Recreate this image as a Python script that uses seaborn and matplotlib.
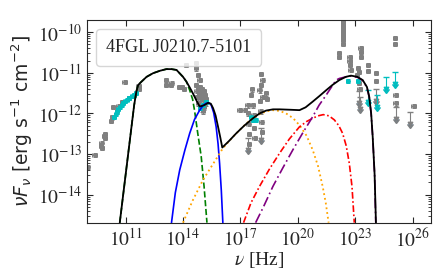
import numpy as np
import matplotlib
matplotlib.use("Agg")
import matplotlib.pyplot as plt
import matplotlib.ticker as mticker
import seaborn as sns

# model curves, log10(nu [Hz]) and log10(nuFnu [erg s-1 cm-2])
total_lognu = [10.70, 11.14, 11.45, 11.57, 11.66, 11.83, 12.10, 12.44, 12.80, 13.13, 13.40, 13.66, 14.00, 14.18,
               14.35, 14.52, 14.70, 14.87, 15.10, 15.31, 15.45, 15.57, 15.70, 15.83, 15.95, 16.05, 16.40, 16.78,
               17.20, 17.65, 18.00, 18.34, 18.70, 19.04, 19.60, 20.08, 20.40, 20.77, 21.10, 21.47, 21.80, 22.16,
               22.50, 22.77, 23.10, 23.38, 23.60, 23.72, 23.82, 23.90, 24.00, 24.07]
total_logF = [-14.69, -12.99, -11.80, -11.45, -11.30, -11.22, -11.10, -11.01, -10.95, -10.91, -10.91, -10.93, -11.10, -11.22,
              -11.36, -11.51, -11.68, -11.83, -11.80, -11.74, -11.76, -11.87, -12.05, -12.33, -12.60, -12.84, -12.68, -12.49,
              -12.30, -12.12, -12.00, -11.93, -11.90, -11.90, -11.91, -11.92, -11.85, -11.71, -11.58, -11.43, -11.30, -11.18,
              -11.10, -11.07, -11.10, -11.18, -11.35, -11.59, -12.00, -12.57, -13.50, -14.69]

sync1_lognu = [10.70, 11.14, 11.45, 11.57, 11.66, 11.83, 12.10, 12.44, 12.80, 13.13, 13.40, 13.66, 14.00, 14.18,
               14.35, 14.50, 14.60, 14.77, 14.95, 15.10, 15.25]
sync1_logF = [-14.69, -12.99, -11.80, -11.45, -11.30, -11.22, -11.10, -11.01, -10.95, -10.91, -10.91, -10.93, -11.10, -11.22,
              -11.43, -11.65, -11.92, -12.49, -13.06, -13.80, -14.69]

sync2_lognu = [13.40, 13.60, 13.83, 14.10, 14.35, 14.60, 14.87, 15.05, 15.21, 15.35, 15.47, 15.60, 15.73, 15.83, 15.91, 16.00, 16.08]
sync2_logF = [-14.69, -13.95, -13.39, -12.90, -12.49, -12.15, -11.92, -11.80, -11.75, -11.74, -11.79, -11.98, -12.33, -12.75, -13.23, -13.90, -14.69]

ssc_lognu = [14.00, 14.50, 15.04, 15.60, 16.08, 16.60, 17.12, 17.55, 17.99, 18.35, 18.69, 19.05, 19.38, 19.75, 20.08,
             20.45, 20.77, 21.05, 21.29, 21.45, 21.60]
ssc_logF = [-14.69, -14.15, -13.64, -13.22, -12.86, -12.58, -12.33, -12.15, -12.02, -11.95, -11.92, -11.94, -12.00, -12.12, -12.29,
            -12.55, -12.90, -13.30, -13.80, -14.20, -14.69]

ec1_lognu = [17.16, 17.55, 17.99, 18.50, 19.04, 19.55, 20.08, 20.45, 20.77, 21.05, 21.32, 21.62, 21.90, 22.13, 22.33,
             22.52, 22.68, 22.82, 22.94]
ec1_logF = [-14.69, -14.20, -13.80, -13.38, -12.98, -12.63, -12.33, -12.20, -12.12, -12.06, -12.03, -12.06, -12.16, -12.30, -12.49,
            -12.80, -13.23, -13.80, -14.69]

ec2_lognu = [17.79, 18.20, 18.69, 19.20, 19.73, 20.25, 20.77, 21.10, 21.47, 21.75, 21.99, 22.16, 22.50, 22.77, 23.10,
             23.38, 23.60, 23.72, 23.82, 23.90, 24.00, 24.06]
ec2_logF = [-14.69, -14.30, -13.80, -13.35, -12.90, -12.48, -12.08, -11.80, -11.55, -11.35, -11.18, -11.14, -11.10, -11.08, -11.11,
            -11.19, -11.36, -11.60, -12.01, -12.58, -13.50, -14.69]

# archival data (grey) and simultaneous data (cyan)
grey_lognu = [9.02, 9.40, 9.72, 9.75, 9.78, 9.90, 9.93, 9.95, 10.25, 10.30, 10.36, 10.55, 10.65, 10.84, 10.96, 11.20,
              11.69, 11.72, 13.13, 13.13, 13.38, 13.40, 13.81, 13.93, 14.05, 14.17, 14.69, 14.69, 14.78, 14.87,
              14.70, 14.72, 14.75, 14.78, 14.80, 14.85, 14.88, 14.90, 14.92, 14.95, 14.98, 15.00, 15.03, 15.05,
              15.08, 15.10, 15.12, 15.15, 15.18, 15.20,
              16.95, 17.22, 17.38, 17.40, 17.42, 17.44, 17.46, 17.55, 17.60, 17.65, 17.70, 17.72, 17.74,
              18.00, 18.03, 18.05, 18.07, 18.07, 18.10, 18.12, 18.15, 18.15, 18.35, 18.38,
              22.35, 22.35, 22.35, 22.35, 22.35, 22.35, 22.35, 22.35, 22.35, 22.16, 22.14, 22.70, 22.70, 22.72,
              22.75, 23.28, 23.30, 23.30, 23.15, 23.20, 23.10, 23.20, 23.22, 23.65, 23.65, 24.07, 24.07, 25.08,
              25.08, 25.10, 25.10, 26.05]
grey_logF = [-13.31, -13.02, -12.80, -12.74, -12.84, -12.55, -12.60, -12.50, -12.18, -12.10, -11.84, -11.95, -11.82, -11.71, -11.22, -11.62,
             -11.32, -11.40, -11.18, -11.30, -11.30, -11.24, -11.34, -11.34, -11.40, -10.81, -10.77, -10.89, -11.06, -11.18,
             -11.30, -11.45, -11.60, -11.40, -11.75, -11.55, -11.35, -11.85, -11.65, -11.50, -11.90, -11.40, -11.60, -11.95,
             -11.70, -11.45, -11.85, -11.55, -11.75, -11.65,
             -11.92, -11.92, -11.80, -12.00, -12.25, -12.50, -12.75, -11.55, -11.41, -11.80, -12.05, -12.35, -12.60,
             -11.43, -11.70, -11.95, -11.02, -11.30, -12.20, -12.45, -11.18, -11.60, -11.51, -11.65,
             -9.74, -9.80, -9.86, -9.92, -9.98, -10.05, -10.12, -10.20, -10.28, -10.52, -10.60, -10.62, -10.70, -10.80,
             -10.92, -10.38, -10.48, -10.60, -10.88, -10.98, -11.05, -11.25, -11.40, -10.80, -10.95, -11.00, -11.20, -10.14,
             -10.28, -11.55, -11.75, -11.81]

grey_ul_lognu = [17.40, 18.05, 23.25, 23.18, 24.07, 25.10, 25.84]
grey_ul_logF = [-12.60, -12.35, -11.60, -11.45, -11.40, -11.85, -11.96]

cyan_lognu = [10.40, 10.48, 10.55, 10.62, 10.70, 10.80, 10.88, 10.98, 11.10, 11.20, 11.32, 11.45, 11.55,
              14.87, 15.03, 15.21, 17.55, 17.64, 17.79, 22.61, 23.12]
cyan_logF = [-12.10, -12.02, -11.96, -11.90, -11.85, -11.80, -11.74, -11.70, -11.66, -11.62, -11.58, -11.54, -11.50,
             -11.87, -11.79, -11.71, -12.10, -12.16, -12.16, -11.20, -11.20]

cyan_ul_lognu = [23.65, 24.11, 24.59, 25.08]
cyan_ul_logF = [-11.42, -11.55, -11.10, -10.98]

source_name = "4FGL J0210.7-5101"

sns.set_style("ticks")
plt.rcParams["font.family"] = "serif"
plt.rcParams["font.serif"] = ["Liberation Serif", "DejaVu Serif"]
plt.rcParams["mathtext.fontset"] = "stix"
plt.rcParams["xtick.direction"] = "in"
plt.rcParams["ytick.direction"] = "in"
plt.rcParams["xtick.top"] = True
plt.rcParams["ytick.right"] = True

fig = plt.figure(figsize=(4.36, 2.73), dpi=100)
ax = fig.add_axes([0.2, 0.183, 0.789, 0.744])
ax.set_xscale("log")
ax.set_yscale("log")


def lin(v):
    return 10 ** np.array(v, dtype=float)


# data points
gx, gy = lin(grey_lognu), lin(grey_logF)
ax.errorbar(gx, gy, yerr=gy * 0.12, xerr=gx * 0.25, fmt="o", color="grey", ms=2.5,
            elinewidth=0.7, capsize=1.5, capthick=0.7, zorder=2)
cx, cy = lin(cyan_lognu), lin(cyan_logF)
ax.errorbar(cx, cy, yerr=cy * 0.1, xerr=cx * 0.2, fmt="o", color="c", ms=2.5,
            elinewidth=0.7, capsize=1.5, capthick=0.7, zorder=3)

ux, uy = lin(grey_ul_lognu), lin(grey_ul_logF)
ax.errorbar(ux, uy, yerr=uy * (1 - 10 ** -0.3), uplims=True, fmt="none", ecolor="grey",
            elinewidth=0.8, capsize=2, zorder=2)
ax.scatter(ux, uy * 10 ** -0.3, marker="v", color="grey", s=10, zorder=2)
vx, vy = lin(cyan_ul_lognu), lin(cyan_ul_logF)
ax.errorbar(vx, vy, yerr=vy * (1 - 10 ** -0.3), uplims=True, fmt="none", ecolor="c",
            elinewidth=0.8, capsize=2, zorder=3)
ax.scatter(vx, vy * 10 ** -0.3, marker="v", color="c", s=10, zorder=3)

# model components
sns.lineplot(x=lin(sync1_lognu), y=lin(sync1_logF), ax=ax, color="green", linestyle="--", lw=1.2, sort=False, estimator=None, zorder=4)
sns.lineplot(x=lin(sync2_lognu), y=lin(sync2_logF), ax=ax, color="blue", linestyle="-", lw=1.2, sort=False, estimator=None, zorder=4)
sns.lineplot(x=lin(ssc_lognu), y=lin(ssc_logF), ax=ax, color="orange", linestyle=":", lw=1.3, sort=False, estimator=None, zorder=4)
sns.lineplot(x=lin(ec1_lognu), y=lin(ec1_logF), ax=ax, color="red", linestyle=(0, (4, 1.5, 1, 1.5)), lw=1.2, sort=False, estimator=None, zorder=4)
sns.lineplot(x=lin(ec2_lognu), y=lin(ec2_logF), ax=ax, color="purple", linestyle=(0, (6, 2, 1, 2)), lw=1.2, sort=False, estimator=None, zorder=4)
sns.lineplot(x=lin(total_lognu), y=lin(total_logF), ax=ax, color="black", linestyle="-", lw=1.3, sort=False, estimator=None, zorder=5)

ax.set_xlim(1e9, 9e26)
ax.set_ylim(2e-15, 2e-10)
ax.set_xticks([1e11, 1e14, 1e17, 1e20, 1e23, 1e26])
ax.xaxis.set_minor_locator(mticker.NullLocator())
ax.set_yticks([1e-14, 1e-13, 1e-12, 1e-11, 1e-10])
ax.yaxis.set_minor_locator(mticker.LogLocator(base=10, subs=np.arange(2, 10), numticks=20))
ax.yaxis.set_minor_formatter(mticker.NullFormatter())
pow_fmt = mticker.FuncFormatter(lambda v, p: r"$10^{%d}$" % int(round(np.log10(v))))
ax.xaxis.set_major_formatter(pow_fmt)
ax.yaxis.set_major_formatter(pow_fmt)
ax.tick_params(which="major", length=4, width=0.8, labelsize=14)
ax.tick_params(which="minor", length=2, width=0.6)

ax.set_xlabel(r"$\nu$ [Hz]", fontsize=14, labelpad=0)
ax.set_ylabel(r"$\nu F_{\nu}$ [erg s$^{-1}$ cm$^{-2}$]", fontsize=13.5, family="DejaVu Sans",
              math_fontfamily="dejavusans", labelpad=2)

leg = ax.legend([plt.Line2D([], [], ls="none")], [source_name], loc="upper left", handlelength=0,
                handletextpad=0, fontsize=13, borderpad=0.55)

fig.savefig("out.png", dpi=100)
